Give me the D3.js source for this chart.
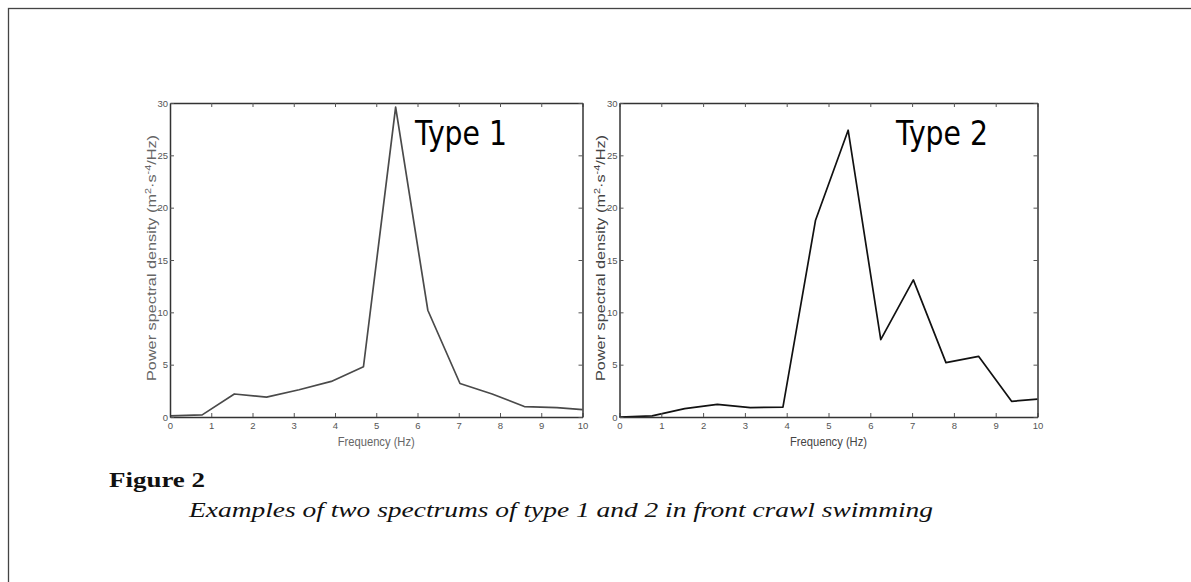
<!DOCTYPE html>
<html>
<head>
<meta charset="utf-8">
<script src="https://cdn.jsdelivr.net/npm/d3@7"></script>
<style>
  body { margin: 0; background: #fff; }
  svg { display: block; }
</style>
</head>
<body>
<div id="chart"></div>
<script>
// frequency bins (Hz) and the two spectra
var freq  = [0, 0.78, 1.56, 2.34, 3.13, 3.91, 4.69, 5.47, 6.25, 7.03, 7.81, 8.59, 9.38, 10];
var type1 = [0.1, 0.2, 2.2, 1.9, 2.6, 3.4, 4.8, 29.6, 10.2, 3.2, 2.2, 1.0, 0.9, 0.7];
var type2 = [0.0, 0.1, 0.8, 1.2, 0.9, 0.95, 18.8, 27.4, 7.4, 13.1, 5.2, 5.8, 1.5, 1.7];
var xTicks = [0, 1, 2, 3, 4, 5, 6, 7, 8, 9, 10];
var yTicks = [0, 5, 10, 15, 20, 25, 30];
var panelLabels = ["Type 1", "Type 2"];

var W = 1191, H = 582;

var svg = d3.select("#chart").append("svg")
  .attr("width", W)
  .attr("height", H);

// page frame (only left and top edges are visible)
svg.append("rect")
  .attr("x", 8.5).attr("y", 8.5)
  .attr("width", W + 20).attr("height", H + 20)
  .attr("fill", "none")
  .attr("stroke", "#444")
  .attr("stroke-width", 1.3);

var panels = [
  { x0: 170, x1: 582.5, data: type1, color: "#4a4a4a", labelColor: "#666", label: panelLabels[0], lx: 415 },
  { x0: 619.5, x1: 1037.5, data: type2, color: "#111", labelColor: "#444", label: panelLabels[1], lx: 896 }
];
var plotTop = 103, plotBottom = 417;

panels.forEach(function (p) {
  var x = d3.scaleLinear().domain([0, 10]).range([p.x0, p.x1]);
  var y = d3.scaleLinear().domain([0, 30]).range([plotBottom, plotTop]);
  var g = svg.append("g");

  // the curve
  var line = d3.line()
    .x(function (d, i) { return x(freq[i]); })
    .y(function (d) { return y(d); });
  g.append("path")
    .datum(p.data)
    .attr("d", line)
    .attr("fill", "none")
    .attr("stroke", p.color)
    .attr("stroke-width", 1.7)
    .attr("stroke-linejoin", "round");

  // matlab style axes: ticks inward on all four sides
  var tk = -4;
  g.append("g")
    .attr("transform", "translate(0," + plotBottom + ")")
    .call(d3.axisBottom(x).tickValues(xTicks).tickSizeInner(tk).tickSizeOuter(0).tickPadding(5));
  g.append("g")
    .attr("transform", "translate(0," + plotTop + ")")
    .call(d3.axisTop(x).tickValues(xTicks).tickSizeInner(tk).tickSizeOuter(0).tickFormat(""));
  g.append("g")
    .attr("transform", "translate(" + p.x0 + ",0)")
    .call(d3.axisLeft(y).tickValues(yTicks).tickSizeInner(tk).tickSizeOuter(0).tickPadding(2));
  g.append("g")
    .attr("transform", "translate(" + p.x1 + ",0)")
    .call(d3.axisRight(y).tickValues(yTicks).tickSizeInner(tk).tickSizeOuter(0).tickFormat(""));

  g.selectAll(".domain").attr("stroke", "#333").attr("stroke-width", 1.5);
  g.selectAll(".tick line").attr("stroke", "#555");
  g.selectAll(".tick text")
    .attr("fill", "#555")
    .style("font-family", "'Liberation Sans Narrow', 'Liberation Sans', Arial, sans-serif")
    .style("font-size", "9.5px");

  // axis titles
  g.append("text")
    .attr("x", (p.x0 + p.x1) / 2)
    .attr("y", 446)
    .attr("text-anchor", "middle")
    .attr("fill", p.labelColor)
    .attr("textLength", 77)
    .attr("lengthAdjust", "spacingAndGlyphs")
    .style("font-family", "'Liberation Sans', Arial, sans-serif")
    .style("font-size", "13px")
    .text("Frequency (Hz)");

  var yl = g.append("text")
    .attr("transform", "translate(" + (p.x0 - 14.5) + "," + 258 + ") rotate(-90)")
    .attr("text-anchor", "middle")
    .attr("fill", p.labelColor)
    .attr("textLength", 246)
    .attr("lengthAdjust", "spacingAndGlyphs")
    .style("font-family", "'Liberation Sans', Arial, sans-serif")
    .style("font-size", "13.5px");
  yl.append("tspan").text("Power spectral density (m");
  yl.append("tspan").attr("dy", -5).style("font-size", "9px").text("2");
  yl.append("tspan").attr("dy", 5).text("\u00b7s");
  yl.append("tspan").attr("dy", -5).style("font-size", "9px").text("-4");
  yl.append("tspan").attr("dy", 5).text("/Hz)");

  // panel label
  g.append("text")
    .attr("x", p.lx)
    .attr("y", 145)
    .attr("fill", "#000")
    .attr("textLength", 92)
    .attr("lengthAdjust", "spacingAndGlyphs")
    .style("font-family", "'DejaVu Sans', Verdana, sans-serif")
    .style("font-size", "34px")
    .text(p.label);
});

// figure caption
svg.append("text")
  .attr("x", 109)
  .attr("y", 487)
  .attr("fill", "#111")
  .attr("textLength", 96)
  .attr("lengthAdjust", "spacingAndGlyphs")
  .style("font-family", "'Liberation Serif', serif")
  .style("font-weight", "bold")
  .style("font-size", "22px")
  .text("Figure 2");

svg.append("text")
  .attr("x", 189)
  .attr("y", 517)
  .attr("fill", "#111")
  .attr("textLength", 744)
  .attr("lengthAdjust", "spacingAndGlyphs")
  .style("font-family", "'Liberation Serif', serif")
  .style("font-style", "italic")
  .style("font-size", "22px")
  .text("Examples of two spectrums of type 1 and 2 in front crawl swimming");
</script>
</body>
</html>
